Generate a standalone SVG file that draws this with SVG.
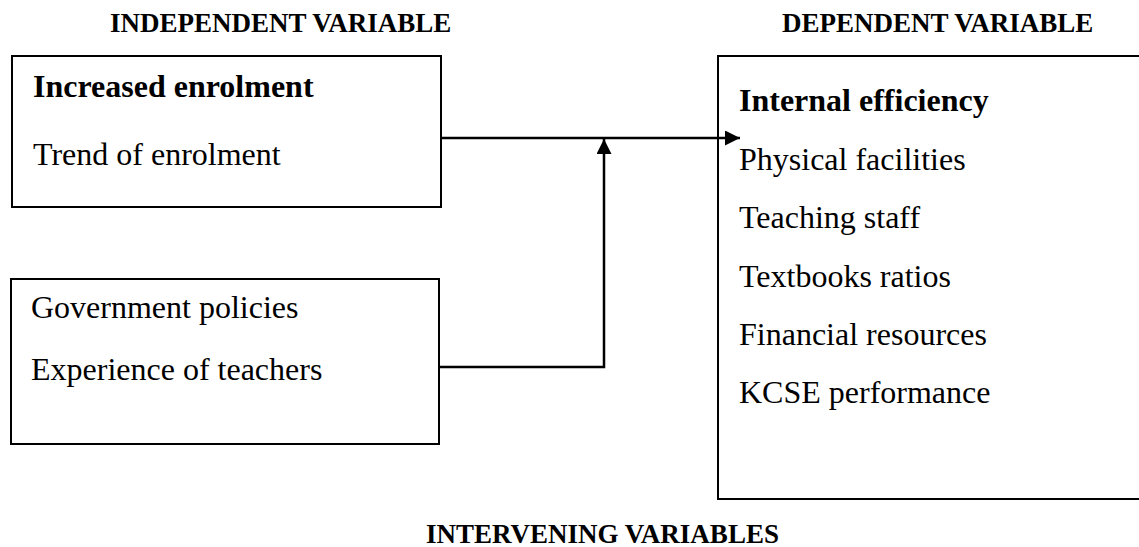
<svg xmlns="http://www.w3.org/2000/svg" width="1139" height="547" viewBox="0 0 1139 547">
<defs>
<style>
text{font-family:"Liberation Serif","Times New Roman",serif;fill:#000}
.h{font-size:27px;font-weight:bold}
.t{font-size:32px}
.b{font-size:32px;font-weight:bold}
.box{fill:#fff;stroke:#000;stroke-width:2}
.ln{fill:none;stroke:#000;stroke-width:2.5}
</style>
<marker id="ah" viewBox="0 0 10 10" refX="10" refY="5" markerWidth="15" markerHeight="15" markerUnits="userSpaceOnUse" orient="auto">
<path d="M0,0 L10,5 L0,10 Z" fill="#000"/>
</marker>
</defs>
<g id="headers">
<text class="h" x="110" y="32">INDEPENDENT VARIABLE</text>
<text class="h" x="782" y="32">DEPENDENT VARIABLE</text>
<text class="h" x="426" y="543">INTERVENING VARIABLES</text>
</g>
<g id="node-independent">
<rect class="box" x="12" y="56" width="429" height="151"/>
<text class="b" x="33" y="97">Increased enrolment</text>
<text class="t" x="33" y="165">Trend of enrolment</text>
</g>
<g id="node-intervening">
<rect class="box" x="11" y="279" width="428" height="165"/>
<text class="t" x="31" y="318">Government policies</text>
<text class="t" x="31" y="380">Experience of teachers</text>
</g>
<g id="node-dependent">
<rect class="box" x="718" y="56" width="440" height="443"/>
<text class="b" x="739" y="111">Internal efficiency</text>
<text class="t" x="739" y="170">Physical facilities</text>
<text class="t" x="739" y="228">Teaching staff</text>
<text class="t" x="739" y="287">Textbooks ratios</text>
<text class="t" x="739" y="345">Financial resources</text>
<text class="t" x="739" y="403">KCSE performance</text>
</g>
<g id="connectors">
<path class="ln" d="M441,138 L740,138" marker-end="url(#ah)"/>
<path class="ln" d="M439,367 L604,367 L604,139" marker-end="url(#ah)"/>
</g>
</svg>
